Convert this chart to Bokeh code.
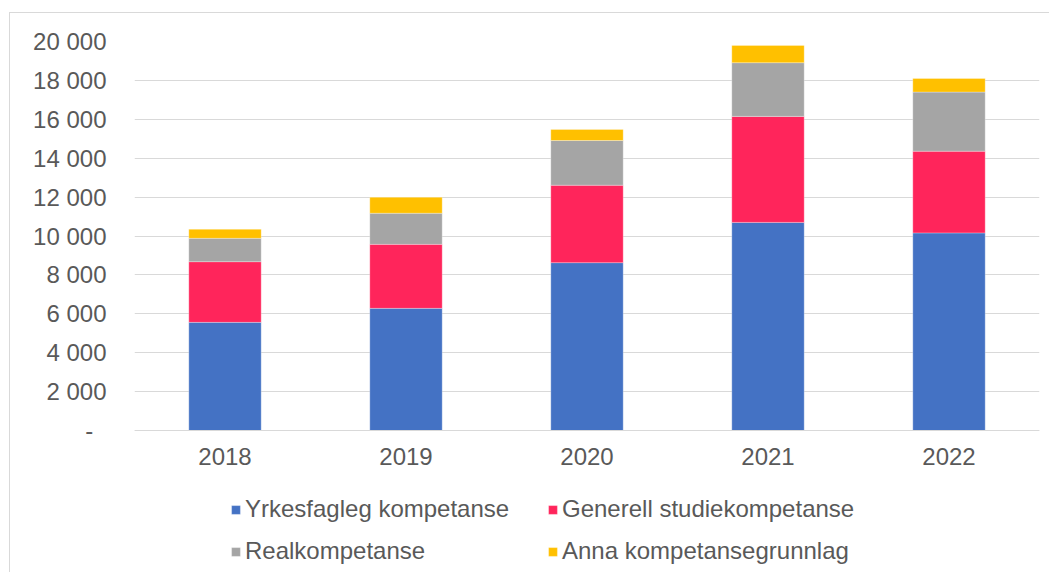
from bokeh.plotting import figure
from bokeh.models import FactorRange, Range1d, FixedTicker, CustomJSTickFormatter, Legend, LegendItem, ColumnDataSource
from bokeh.embed import file_html
from bokeh.resources import INLINE

years = ["2018", "2019", "2020", "2021", "2022"]
yrkesfagleg = [5560, 6280, 8630, 10700, 10160]
generell = [3120, 3290, 3980, 5450, 4200]
real = [1200, 1600, 2300, 2760, 3040]
anna = [465, 820, 570, 890, 700]
series_names = ["Yrkesfagleg kompetanse", "Generell studiekompetanse", "Realkompetanse", "Anna kompetansegrunnlag"]
series_keys = ["yrkesfagleg", "generell", "real", "anna"]
colors = ["#4472C4", "#FF255B", "#A5A5A5", "#FFC000"]
y_ticks = list(range(0, 20001, 2000))

FONT = "Liberation Sans"
TXT = "#595959"

source = ColumnDataSource(dict(years=years, yrkesfagleg=yrkesfagleg, generell=generell, real=real, anna=anna))

# frame spans from the 20 000 line down to the bottom of the canvas; the
# x axis sits at y = 0 inside it, and the legend below that
p = figure(x_range=FactorRange(*years, range_padding=0), y_range=Range1d(-7352, 20000),
           width=1040, height=560, output_backend="svg", toolbar_location=None,
           min_border_left=124, min_border_right=11, min_border_top=28, min_border_bottom=0)
p.styles = {"border-left": "1px solid #d9d9d9", "border-top": "1px solid #d9d9d9",
            "margin-left": "9px", "margin-top": "12px"}

renderers = p.vbar_stack(series_keys, x="years", width=0.4, color=colors, source=source,
                         line_color="white", line_width=0.5, line_alpha=0.6)

p.outline_line_color = None
p.xgrid.grid_line_color = None
p.ygrid.grid_line_color = "#d9d9d9"
p.ygrid.grid_line_width = 1

p.yaxis.ticker = FixedTicker(ticks=y_ticks)
p.yaxis.formatter = CustomJSTickFormatter(code="""
if (tick == 0) { return '-\u00a0\u00a0'; }
return tick.toString().replace(/\\B(?=(\\d{3})+(?!\\d))/g, ' ');
""")
p.yaxis.axis_line_color = None
p.yaxis.major_tick_line_color = None
p.yaxis.minor_tick_line_color = None
p.yaxis.major_tick_out = 0
p.yaxis.major_tick_in = 0
p.yaxis.major_label_standoff = 28

p.xaxis.fixed_location = 0
p.xaxis.axis_line_color = "#d9d9d9"
p.xaxis.axis_line_width = 1
p.xaxis.major_tick_line_color = None
p.xaxis.major_tick_out = 0
p.xaxis.major_tick_in = 0
p.xaxis.major_label_standoff = 17

for ax in (p.xaxis, p.yaxis):
    ax.major_label_text_font = FONT
    ax.major_label_text_font_size = "24px"
    ax.major_label_text_color = TXT

def make_legend(items, loc):
    lg = Legend(items=items, location=loc, orientation="vertical")
    lg.label_text_font = FONT
    lg.label_text_font_size = "24px"
    lg.label_text_color = TXT
    lg.glyph_width = 11
    lg.glyph_height = 11
    lg.label_standoff = 4
    lg.spacing = 14
    lg.padding = 0
    lg.margin = 0
    lg.border_line_color = None
    lg.background_fill_alpha = 0
    return lg

leg1 = make_legend([LegendItem(label=series_names[0], renderers=[renderers[0]]),
                    LegendItem(label=series_names[2], renderers=[renderers[2]])], (96, 8))
leg2 = make_legend([LegendItem(label=series_names[1], renderers=[renderers[1]]),
                    LegendItem(label=series_names[3], renderers=[renderers[3]])], (413, 8))
p.add_layout(leg1, "center")
p.add_layout(leg2, "center")

open("out.html", "w").write(file_html(p, INLINE))
